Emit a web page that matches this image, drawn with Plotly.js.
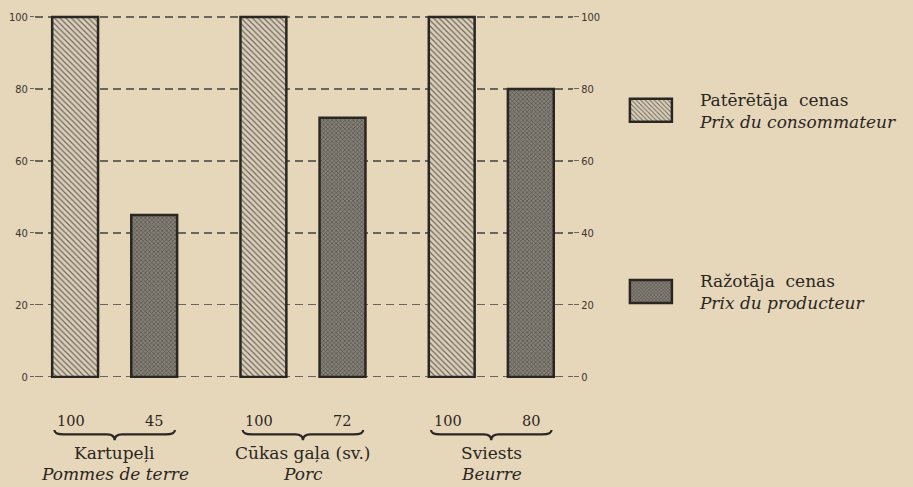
<!DOCTYPE html>
<html><head><meta charset="utf-8">
<script src="https://cdn.plot.ly/plotly-3.0.1.min.js"></script>
<style>body{margin:0;background:#e6d6ba;}</style>
</head><body><div id="chart" style="width:913px;height:487px;"></div>
<script>
var categoriesLv = ['Kartupeļi', 'Cūkas gaļa (sv.)', 'Sviests'];
var categoriesFr = ['Pommes de terre', 'Porc', 'Beurre'];
var consumerPrice = [100, 100, 100];
var producerPrice = [45, 72, 80];
var seriesNames = ['Patērētāja  cenas<br><i>Prix du consommateur</i>', 'Ražotāja  cenas<br><i>Prix du producteur</i>'];
var yTicks = [0, 20, 40, 60, 80, 100];

var xs = categoriesLv.map(function(_, i){ return i; });
var serif = 'DejaVu Serif, Liberation Serif, serif';
var ink = '#2a2622';
var tickFont = {family:'DejaVu Sans Condensed, DejaVu Sans, sans-serif', size:11, color:'#3a3530'};

var traces = [
  {type:'bar', x: xs, y: consumerPrice, name: seriesNames[0], legendgroup:'a',
   marker:{color:'#ddd0b9', line:{color:ink, width:2.5},
     pattern:{shape:'\\', bgcolor:'#dcd0ba', fgcolor:'#6e675e', size:4, solidity:0.3}}},
  {type:'bar', x: xs, y: producerPrice, name: seriesNames[1], legendgroup:'b',
   marker:{color:'#7f7a72', line:{color:ink, width:2.5},
     pattern:{shape:'x', bgcolor:'#858077', fgcolor:'#4e4a44', size:3, solidity:0.35}}},
  {type:'scatter', x:[0], y:[0], yaxis:'y2', mode:'markers', marker:{opacity:0}, showlegend:false, hoverinfo:'skip'}
];

var annotations = [];
var shapes = [];
var off = 0.215;
var numFont = {family:serif, size:14.5, color:ink};
var lblFont = {family:serif, size:17, color:ink};
xs.forEach(function(x, i){
  annotations.push({x: x - off, y: 0, xref:'x', yref:'paper', yanchor:'middle', yshift:-43, xshift:-3, text: String(consumerPrice[i]), showarrow:false, font:numFont});
  annotations.push({x: x + off, y: 0, xref:'x', yref:'paper', yanchor:'middle', yshift:-43, xshift:-1, text: String(producerPrice[i]), showarrow:false, font:numFont});
  annotations.push({x: x, y: 0, xref:'x', yref:'paper', yanchor:'middle', yshift:-75, text: categoriesLv[i], showarrow:false, font:lblFont});
  annotations.push({x: x, y: 0, xref:'x', yref:'paper', yanchor:'middle', yshift:-96, text: '<i>' + categoriesFr[i] + '</i>', showarrow:false, font:lblFont});
  var L = x - 0.32, R = x + 0.32, t = -0.141, m = -0.153, tip = -0.169;
  shapes.push({type:'path', xref:'x', yref:'paper', line:{color:ink, width:2.2},
    path: 'M'+L+','+t+' Q'+L+','+m+' '+(L+0.05)+','+m+' L'+(x-0.04)+','+m+' Q'+x+','+m+' '+x+','+tip+
          ' Q'+x+','+m+' '+(x+0.04)+','+m+' L'+(R-0.05)+','+m+' Q'+R+','+m+' '+R+','+t});
});

var layout = {
  width:913, height:487,
  paper_bgcolor:'#e6d6ba', plot_bgcolor:'rgba(0,0,0,0)',
  margin:{l:35, r:338, t:10, b:109},
  barmode:'group', bargap:0.16, bargroupgap:0.42,
  xaxis:{range:[-0.423, 2.434], showticklabels:false, showgrid:false, zeroline:false, ticks:''},
  yaxis:{range:[-0.3, 101.94], tickvals:yTicks, showgrid:true, gridcolor:'#6a655d', griddash:'8px,5px', gridwidth:1.1,
         zeroline:false, showline:false, ticks:'outside', ticklen:4, tickcolor:'#6a655d', tickfont:tickFont},
  yaxis2:{range:[-0.3, 101.94], overlaying:'y', side:'right', tickvals:yTicks, showgrid:false, zeroline:false,
          ticks:'outside', ticklen:5, tickcolor:'#6a655d', tickfont:tickFont},
  showlegend:true,
  legend:{x:1.0537, xanchor:'left', y:0.805, yanchor:'top', bgcolor:'rgba(0,0,0,0)', traceorder:'grouped',
          tracegroupgap:134, itemwidth:88, font:{family:serif, size:17, color:ink}, itemclick:false},
  annotations: annotations,
  shapes: shapes
};

Plotly.newPlot('chart', traces, layout, {staticPlot:true}).then(function(gd){
  var pts = gd.querySelectorAll('.legend .legendpoints path');
  pts.forEach(function(p){
    var d = p.getAttribute('d');
    if (d && d.indexOf('M6,6') === 0) {
      p.setAttribute('d', 'M21,11.5H-21V-11.5H21Z');
    }
  });
});
</script>
</body></html>
